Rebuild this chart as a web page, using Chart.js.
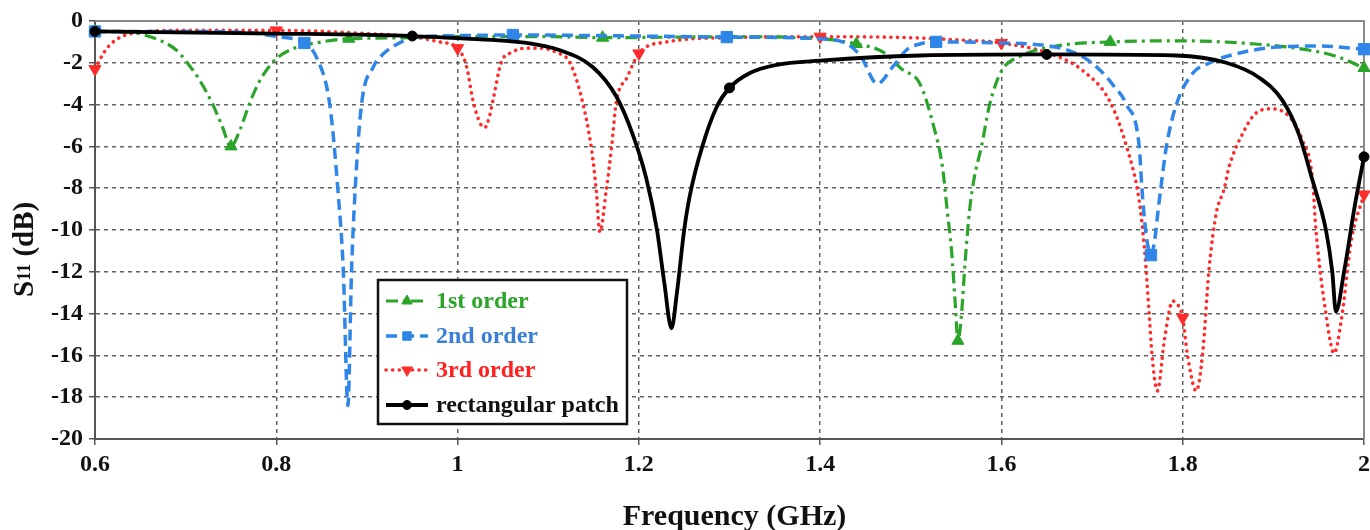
<!DOCTYPE html>
<html><head><meta charset="utf-8">
<script src="https://cdn.jsdelivr.net/npm/chart.js@4.4.1/dist/chart.umd.min.js"></script>
<style>html,body{margin:0;padding:0;background:#fff;overflow:hidden;}#wrap{width:1370px;height:530px;position:relative;overflow:hidden;}</style>
</head><body><div id="wrap"><canvas id="c" width="1375" height="530"></canvas></div>
<script>
// ---- tick labels ----
const freqTicks = [0.6, 0.8, 1, 1.2, 1.4, 1.6, 1.8, 2];
const dbTicks = [0, -2, -4, -6, -8, -10, -12, -14, -16, -18, -20];
const seriesNames = ['1st order', '2nd order', '3rd order', 'rectangular patch'];
const xTitle = 'Frequency (GHz)';

// ---- 1st order ----
const order1Freq = [0.6,0.64,0.67,0.69,0.70,0.715,0.73,0.74,0.75,0.76,0.77,0.78,0.79,0.80,0.82,0.85,0.88,0.95,1.0,1.1,1.16,1.3,1.4,1.44,1.47,1.49,1.51,1.525,1.535,1.54,1.545,1.549,1.552,1.556,1.56,1.565,1.57,1.578,1.587,1.60,1.62,1.66,1.72,1.8,1.88,1.94,1.97,2.0];
const order1S11 = [-0.5,-0.55,-0.9,-1.4,-1.9,-2.8,-4.0,-5.0,-6.0,-5.2,-4.0,-3.0,-2.3,-1.8,-1.3,-1.0,-0.85,-0.8,-0.75,-0.75,-0.8,-0.75,-0.85,-1.1,-1.5,-2.3,-3.0,-5.0,-7.0,-9.0,-11.0,-13.5,-15.3,-14.0,-11.5,-9.0,-7.5,-6.0,-4.0,-2.4,-1.7,-1.2,-1.0,-0.95,-1.1,-1.4,-1.7,-2.25];
const order1Marks = [0.6,0.75,0.88,1.16,1.44,1.552,1.72,2.0];

// ---- 2nd order ----
const order2Freq = [0.6,0.7,0.78,0.80,0.831,0.845,0.859,0.868,0.874,0.879,0.883,0.887,0.894,0.907,0.92,0.936,0.95,1.0,1.061,1.2,1.297,1.4,1.43,1.445,1.463,1.48,1.495,1.51,1.528,1.6,1.645,1.67,1.693,1.71,1.722,1.738,1.752,1.755,1.759,1.765,1.769,1.773,1.777,1.782,1.793,1.811,1.83,1.848,1.903,1.95,2.0];
const order2S11 = [-0.5,-0.5,-0.6,-0.75,-1.05,-1.8,-4.0,-8.1,-12.0,-18.4,-12.0,-8.1,-4.0,-2.2,-1.5,-1.05,-0.8,-0.7,-0.67,-0.72,-0.77,-0.85,-1.1,-1.7,-3.0,-2.2,-1.4,-1.1,-1.0,-1.05,-1.15,-1.35,-1.8,-2.4,-3.0,-4.0,-6.0,-8.0,-10.0,-11.2,-10.5,-9.0,-7.6,-6.0,-4.0,-2.5,-2.0,-1.7,-1.25,-1.2,-1.35];
const order2Marks = [0.6,0.831,1.061,1.297,1.528,1.765,2.0];

// ---- 3rd order ----
const order3Freq = [0.6,0.61,0.62,0.64,0.7,0.8,0.9,0.95,0.98,1.0,1.01,1.017,1.025,1.03,1.035,1.04,1.048,1.06,1.075,1.09,1.109,1.124,1.138,1.148,1.153,1.157,1.164,1.17,1.175,1.187,1.2,1.231,1.297,1.4,1.5,1.55,1.6,1.656,1.689,1.719,1.738,1.752,1.758,1.763,1.766,1.772,1.78,1.789,1.795,1.8,1.805,1.815,1.822,1.829,1.837,1.846,1.851,1.866,1.881,1.899,1.918,1.932,1.943,1.947,1.958,1.967,1.975,1.986,2.0];
const order3S11 = [-2.3,-1.5,-1.0,-0.6,-0.45,-0.45,-0.6,-0.75,-1.0,-1.3,-2.2,-3.8,-4.9,-5.1,-4.6,-3.6,-2.0,-1.5,-1.3,-1.3,-1.5,-2.0,-3.9,-6.2,-8.1,-10.1,-8.1,-6.0,-3.9,-2.7,-1.55,-1.0,-0.8,-0.75,-0.8,-0.9,-1.05,-1.6,-2.35,-3.8,-6.0,-8.6,-11.0,-14.0,-15.9,-17.7,-15.2,-13.4,-13.6,-14.2,-15.9,-17.7,-15.9,-11.9,-9.2,-8.0,-7.0,-5.4,-4.4,-4.2,-4.6,-5.7,-7.5,-10.0,-14.0,-15.9,-14.3,-10.5,-8.3];
const order3Marks = [0.6,0.8,1.0,1.2,1.4,1.6,1.8,2.0];

// ---- rectangular patch ----
const patchFreq = [0.6,0.8,0.95,1.0,1.076,1.113,1.149,1.175,1.193,1.208,1.22,1.228,1.236,1.242,1.25,1.256,1.27,1.286,1.3,1.322,1.352,1.4,1.51,1.65,1.793,1.848,1.884,1.91,1.928,1.943,1.958,1.965,1.969,1.978,1.99,2.0];
const patchS11 = [-0.5,-0.6,-0.72,-0.82,-1.05,-1.4,-2.2,-3.6,-5.4,-7.5,-10.0,-12.5,-14.7,-13.0,-10.0,-8.4,-6.0,-4.1,-3.2,-2.5,-2.1,-1.9,-1.65,-1.6,-1.65,-2.0,-2.7,-3.8,-5.4,-7.6,-10.0,-12.0,-13.9,-12.0,-8.8,-6.5];
const patchMarks = [0.6,0.95,1.3,1.65,2.0];

const SERIF = "'Liberation Serif','Times New Roman',serif";

function makeSet(label, freq, s11, marks, st) {
  return {
    label: label,
    data: freq.map((f, i) => ({x: f, y: s11[i]})),
    borderColor: st.color,
    backgroundColor: st.color,
    borderWidth: st.width,
    borderDash: st.dash,
    borderCapStyle: st.cap,
    cubicInterpolationMode: 'monotone',
    pointStyle: st.point,
    pointRotation: st.rot,
    pointRadius: freq.map(f => marks.includes(f) ? st.r : 0),
    pointBorderWidth: 1,
    pointBackgroundColor: st.color,
    pointBorderColor: st.color,
    order: st.order,
    clip: false,
    textColor: st.text
  };
}

const datasets = [
  makeSet(seriesNames[0], order1Freq, order1S11, order1Marks, {color:'#2aa52a', text:'#2aa52a', width:3.2, dash:[12,5,3,5], cap:'butt', point:'triangle', rot:0, r:7, order:2}),
  makeSet(seriesNames[1], order2Freq, order2S11, order2Marks, {color:'#2f86e8', text:'#3a7fd5', width:3.5, dash:[11,6], cap:'butt', point:'rect', rot:0, r:8, order:1}),
  makeSet(seriesNames[2], order3Freq, order3S11, order3Marks, {color:'#ff2a2a', text:'#ff2020', width:3.6, dash:[0.1,6.5], cap:'round', point:'triangle', rot:180, r:7, order:3}),
  makeSet(seriesNames[3], patchFreq, patchS11, patchMarks, {color:'#000000', text:'#111111', width:3.8, dash:[], cap:'butt', point:'circle', rot:0, r:5, order:0})
];

const framePlugin = {
  id: 'frame',
  beforeDatasetsDraw(chart) {
    const {ctx, chartArea: a} = chart;
    ctx.save();
    ctx.strokeStyle = '#8a8a8a';
    ctx.lineWidth = 2;
    ctx.setLineDash([]);
    ctx.beginPath();
    ctx.moveTo(a.left, a.top);
    ctx.lineTo(a.right, a.top);
    ctx.lineTo(a.right, a.bottom);
    ctx.stroke();
    ctx.restore();
  }
};

const legendPlugin = {
  id: 'boxLegend',
  afterDatasetsDraw(chart) {
    const ctx = chart.ctx;
    const bx = 378, by = 280, bw = 249, bh = 144;
    ctx.save();
    ctx.fillStyle = '#fff';
    ctx.fillRect(bx, by, bw, bh);
    ctx.strokeStyle = '#111';
    ctx.lineWidth = 2.5;
    ctx.setLineDash([]);
    ctx.strokeRect(bx, by, bw, bh);
    const rows = [301, 336, 370, 405];
    chart.data.datasets.forEach((ds, i) => {
      const y = rows[i];
      ctx.save();
      ctx.strokeStyle = ds.borderColor;
      ctx.lineWidth = ds.borderWidth;
      ctx.lineCap = ds.borderCapStyle;
      ctx.setLineDash(ds.borderDash);
      ctx.beginPath();
      ctx.moveTo(386, y);
      ctx.lineTo(428, y);
      ctx.stroke();
      ctx.setLineDash([]);
      ctx.fillStyle = ds.borderColor;
      ctx.strokeStyle = ds.borderColor;
      ctx.lineWidth = 1;
      Chart.helpers.drawPoint(ctx, {pointStyle: ds.pointStyle, rotation: ds.pointRotation, radius: i === 3 ? 4.5 : 6, borderWidth: 1}, 407, y);
      ctx.restore();
      ctx.fillStyle = ds.textColor;
      ctx.font = 'bold 24px ' + SERIF;
      ctx.textBaseline = 'middle';
      ctx.textAlign = 'left';
      ctx.fillText(ds.label, 436, y + 1);
    });
    ctx.restore();
  }
};

const titlePlugin = {
  id: 'axisTitles',
  afterDraw(chart) {
    const {ctx, chartArea: a} = chart;
    ctx.save();
    ctx.fillStyle = '#111';
    ctx.textBaseline = 'alphabetic';
    ctx.font = 'bold 30px ' + SERIF;
    ctx.textAlign = 'center';
    ctx.fillText(xTitle, (a.left + a.right) / 2 + 5, 525);
    // y title with subscript
    ctx.translate(33, 297);
    ctx.rotate(-Math.PI / 2);
    ctx.textAlign = 'left';
    ctx.font = 'bold 29px ' + SERIF;
    let x = 0;
    ctx.fillText('S', x, 0);
    x += ctx.measureText('S').width;
    ctx.font = 'bold 18px ' + SERIF;
    ctx.fillText('11', x, -3);
    x += ctx.measureText('11').width;
    ctx.font = 'bold 29px ' + SERIF;
    ctx.fillText(' (dB)', x, 0);
    ctx.restore();
  }
};

const gridCommon = {color: 'rgba(70,70,70,0.85)', lineWidth: 1.5, drawTicks: true, tickLength: 6, tickColor: '#555', tickWidth: 1.5, tickBorderDash: []};

new Chart(document.getElementById('c'), {
  type: 'line',
  data: {datasets: datasets},
  plugins: [framePlugin, legendPlugin, titlePlugin],
  options: {
    responsive: false,
    animation: false,
    events: [],
    layout: {padding: {left: 0, right: 5, top: 21, bottom: 0}},
    plugins: {legend: {display: false}, tooltip: {enabled: false}, title: {display: false}},
    scales: {
      x: {
        type: 'linear', min: 0.6, max: 2,
        afterBuildTicks: s => { s.ticks = freqTicks.map(v => ({value: v})); },
        afterFit: s => { s.height = 91; },
        grid: gridCommon,
        border: {display: true, color: '#555', width: 2, dash: [4, 4]},
        ticks: {color: '#111', padding: 5, maxRotation: 0, autoSkip: false, font: {family: SERIF, size: 24, weight: 'bold'}, callback: v => String(v)}
      },
      y: {
        type: 'linear', min: -20, max: 0,
        afterBuildTicks: s => { s.ticks = dbTicks.map(v => ({value: v})); },
        afterFit: s => { s.width = 95; },
        grid: gridCommon,
        border: {display: true, color: '#555', width: 2, dash: [4, 4]},
        ticks: {color: '#111', padding: 6, autoSkip: false, font: {family: SERIF, size: 24, weight: 'bold'}, callback: v => String(v)}
      }
    }
  }
});
</script>
</body></html>
